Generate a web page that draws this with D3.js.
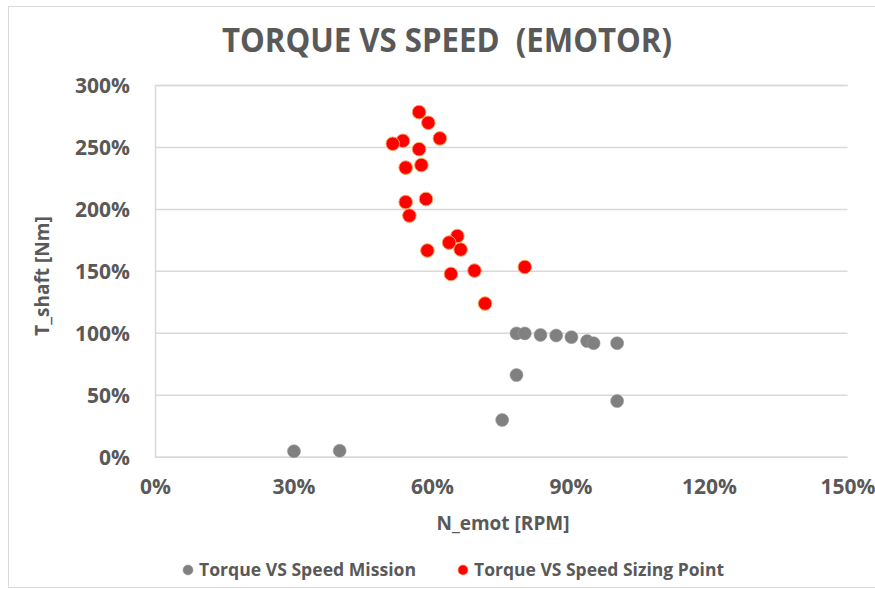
<!DOCTYPE html>
<html>
<head>
<meta charset="utf-8">
<script src="https://cdn.jsdelivr.net/npm/d3@7"></script>
<style>
html,body{margin:0;padding:0;background:#fff;}
svg{display:block;}
text{font-family:"Open Sans",sans-serif;font-weight:bold;fill:#595959;}
</style>
</head>
<body>
<svg id="chart" width="875" height="589"></svg>
<script>
const missionX = [30.1, 40.0, 75.2, 78.3, 78.3, 80.1, 83.5, 86.9, 90.2, 93.6, 95.0, 100.1, 100.1];
const missionY = [4.4, 4.8, 29.6, 65.9, 99.5, 99.5, 98.3, 97.8, 96.5, 93.3, 91.6, 91.6, 44.9];
const sizingX = [57.2, 59.2, 61.7, 53.7, 51.5, 57.2, 54.3, 57.7, 54.3, 58.7, 55.1, 65.5, 63.7, 66.2, 59.0, 80.1, 69.2, 64.1, 71.5];
const sizingY = [278.1, 269.5, 256.9, 255.0, 252.6, 248.2, 233.3, 235.4, 205.5, 208.0, 194.6, 178.1, 172.8, 167.2, 166.4, 153.1, 150.2, 147.5, 123.6];
const xTicks = [0, 30, 60, 90, 120, 150];
const yTicks = [0, 50, 100, 150, 200, 250, 300];
const seriesNames = ["Torque VS Speed Mission", "Torque VS Speed Sizing Point"];
const title = "TORQUE VS SPEED  (EMOTOR)";
const xTitle = "N_emot [RPM]";
const yTitle = "T_shaft [Nm]";

const svg = d3.select("#chart");
const L = 155, R = 847.5, T = 85, B = 456.7;
const x = d3.scaleLinear().domain([0, 150]).range([L, R]);
const y = d3.scaleLinear().domain([0, 300]).range([B, T]);

// outer border
svg.append("rect").attr("x", 8.5).attr("y", 6.5).attr("width", 900).attr("height", 581)
  .attr("fill", "none").attr("stroke", "#d9d9d9").attr("stroke-width", 1);

// title
svg.append("text").attr("x", 447).attr("y", 52).attr("text-anchor", "middle")
  .attr("font-size", 34).attr("textLength", 450).attr("lengthAdjust", "spacingAndGlyphs")
  .style("white-space", "pre").attr("xml:space", "preserve")
  .text(title);

// gridlines
const yAxis = d3.axisLeft(y).tickValues(yTicks).tickSize(-(R - L)).tickFormat(d => d + "%").tickPadding(25);
const gy = svg.append("g").attr("transform", `translate(${L},0)`).call(yAxis);
gy.select(".domain").attr("stroke", "#d9d9d9").attr("stroke-width", 1.5);
gy.selectAll(".tick line").attr("stroke", "#d9d9d9").attr("stroke-width", 1.5);
gy.selectAll(".tick text").attr("font-size", 21).attr("fill", "#595959")
  .attr("font-family", "Open Sans").attr("font-weight", "bold").attr("dy", "0.35em");

const xAxis = d3.axisBottom(x).tickValues(xTicks).tickSize(0).tickFormat(d => d + "%").tickPadding(22);
const gx = svg.append("g").attr("transform", `translate(0,${B})`).call(xAxis);
gx.select(".domain").remove();
gx.selectAll(".tick text").attr("font-size", 21).attr("fill", "#595959")
  .attr("font-family", "Open Sans").attr("font-weight", "bold");

// axis titles
svg.append("text").attr("x", 503).attr("y", 530).attr("text-anchor", "middle")
  .attr("font-size", 19).text(xTitle);
svg.append("text").attr("transform", "translate(49,276) rotate(-90)").attr("text-anchor", "middle")
  .attr("font-size", 19).text(yTitle);

// points
const mission = missionX.map((v, i) => ({x: v, y: missionY[i]}));
const sizing = sizingX.map((v, i) => ({x: v, y: sizingY[i]}));
svg.append("g").selectAll("circle").data(mission).join("circle")
  .attr("cx", d => x(d.x)).attr("cy", d => y(d.y)).attr("r", 6.5)
  .attr("fill", "#808080").attr("stroke", "#9a9a9a").attr("stroke-width", 0.6);
svg.append("g").selectAll("circle").data(sizing).join("circle")
  .attr("cx", d => x(d.x)).attr("cy", d => y(d.y)).attr("r", 6.8)
  .attr("fill", "#ff0000").attr("stroke", "#f8a25a").attr("stroke-width", 1);

// legend
const leg = svg.append("g");
const legItems = [
  {name: seriesNames[0], cx: 188, tx: 199, len: 217, fill: "#808080", stroke: "#9a9a9a"},
  {name: seriesNames[1], cx: 463, tx: 474, len: 250, fill: "#ff0000", stroke: "#f8a25a"}
];
legItems.forEach(it => {
  leg.append("circle").attr("cx", it.cx).attr("cy", 570).attr("r", 5).attr("fill", it.fill).attr("stroke", it.stroke).attr("stroke-width", 0.6);
  leg.append("text").attr("x", it.tx).attr("y", 576).attr("font-size", 17)
    .attr("textLength", it.len).attr("lengthAdjust", "spacingAndGlyphs").text(it.name);
});
</script>
</body>
</html>
